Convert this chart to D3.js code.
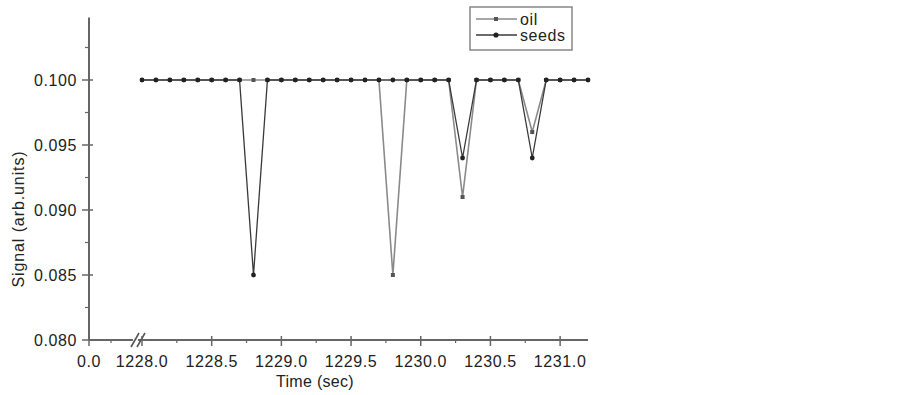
<!DOCTYPE html>
<html>
<head>
<meta charset="utf-8">
<script src="https://cdn.jsdelivr.net/npm/d3@7"></script>
<style>
  body { margin: 0; background: #fff; }
  text { font-family: 'Liberation Sans', Arial, sans-serif; fill: #222; }
</style>
</head>
<body>
<div id="chart"></div>
<script>
const times = [1228.0, 1228.1, 1228.2, 1228.3, 1228.4, 1228.5, 1228.6, 1228.7, 1228.8, 1228.9,
  1229.0, 1229.1, 1229.2, 1229.3, 1229.4, 1229.5, 1229.6, 1229.7, 1229.8, 1229.9,
  1230.0, 1230.1, 1230.2, 1230.3, 1230.4, 1230.5, 1230.6, 1230.7, 1230.8, 1230.9,
  1231.0, 1231.1, 1231.2]
const oil = [0.100, 0.100, 0.100, 0.100, 0.100, 0.100, 0.100, 0.100, 0.100, 0.100,
  0.100, 0.100, 0.100, 0.100, 0.100, 0.100, 0.100, 0.100, 0.085, 0.100,
  0.100, 0.100, 0.100, 0.091, 0.100, 0.100, 0.100, 0.100, 0.096, 0.100,
  0.100, 0.100, 0.100]
const seeds = [0.100, 0.100, 0.100, 0.100, 0.100, 0.100, 0.100, 0.100, 0.085, 0.100,
  0.100, 0.100, 0.100, 0.100, 0.100, 0.100, 0.100, 0.100, 0.100, 0.100,
  0.100, 0.100, 0.100, 0.094, 0.100, 0.100, 0.100, 0.100, 0.094, 0.100,
  0.100, 0.100, 0.100]
const xTicksLeft = [0.0]
const xTicksRight = [1228.0, 1228.5, 1229.0, 1229.5, 1230.0, 1230.5, 1231.0]
const yTicks = [0.080, 0.085, 0.090, 0.095, 0.100]

const fullWidth = 903, fullHeight = 395

const svg = d3.select('#chart')
  .append('svg')
    .attr('width', fullWidth)
    .attr('height', fullHeight)

// broken x axis: a short segment for 0, then the real time range
const xLeft = d3.scaleLinear().domain([0, 0.5]).range([89, 133])
const xScale = d3.scaleLinear().domain([1228.0, 1231.2]).range([142, 588])
const yScale = d3.scaleLinear().domain([0.080, 0.105]).range([340, 15])

const axisColor = '#666'

// y axis
svg.append('line')
  .attr('x1', 89).attr('x2', 89)
  .attr('y1', yScale(0.080)).attr('y2', yScale(0.1048))
  .attr('stroke', axisColor).attr('stroke-width', 2)

const yMinor = d3.range(0.0825, 0.104, 0.005)
svg.selectAll('.yminor').data(yMinor).enter().append('line')
  .attr('x1', 85).attr('x2', 89)
  .attr('y1', d => yScale(d)).attr('y2', d => yScale(d))
  .attr('stroke', axisColor).attr('stroke-width', 1.2)

const yG = svg.selectAll('.ytick').data(yTicks).enter().append('g')
  .attr('transform', d => `translate(0, ${yScale(d)})`)
yG.append('line').attr('x1', 82).attr('x2', 93).attr('stroke', axisColor).attr('stroke-width', 1.5)
yG.append('text')
  .attr('x', 77).attr('dy', '0.35em')
  .attr('text-anchor', 'end')
  .attr('font-size', 16)
  .attr('letter-spacing', 0.6)
  .text(d => d3.format('.3f')(d))

// x axis
svg.append('line')
  .attr('x1', 89).attr('x2', 133)
  .attr('y1', 340).attr('y2', 340)
  .attr('stroke', axisColor).attr('stroke-width', 2)
svg.append('line')
  .attr('x1', 138).attr('x2', 588)
  .attr('y1', 340).attr('y2', 340)
  .attr('stroke', axisColor).attr('stroke-width', 2)

// break marks
svg.selectAll('.brk').data([131, 137]).enter().append('line')
  .attr('x1', d => d).attr('x2', d => d + 8)
  .attr('y1', 347).attr('y2', 333)
  .attr('stroke', '#555').attr('stroke-width', 1.6)

const xMinorRight = d3.range(1228.25, 1231.2, 0.5)
svg.selectAll('.xminor').data(xMinorRight).enter().append('line')
  .attr('x1', d => xScale(d)).attr('x2', d => xScale(d))
  .attr('y1', 340).attr('y2', 343)
  .attr('stroke', axisColor).attr('stroke-width', 1.2)
svg.append('line')
  .attr('x1', xLeft(0.25)).attr('x2', xLeft(0.25))
  .attr('y1', 340).attr('y2', 343)
  .attr('stroke', axisColor).attr('stroke-width', 1.2)

const xTickData = xTicksLeft.map(v => ({ v, x: xLeft(v) }))
  .concat(xTicksRight.map(v => ({ v, x: xScale(v) })))
const xG = svg.selectAll('.xtick').data(xTickData).enter().append('g')
  .attr('transform', d => `translate(${d.x}, 0)`)
xG.append('line').attr('y1', 336).attr('y2', 346).attr('stroke', axisColor).attr('stroke-width', 1.5)
xG.append('text')
  .attr('y', 367)
  .attr('text-anchor', 'middle')
  .attr('font-size', 16)
  .attr('letter-spacing', 0.6)
  .text(d => d3.format('.1f')(d.v))

svg.append('text')
  .attr('x', 315).attr('y', 387)
  .attr('text-anchor', 'middle')
  .attr('font-size', 16)
  .attr('letter-spacing', 0.3)
  .text('Time (sec)')

svg.append('text')
  .attr('transform', 'translate(24, 219) rotate(-90)')
  .attr('text-anchor', 'middle')
  .attr('font-size', 16)
  .attr('letter-spacing', 0.9)
  .text('Signal (arb.units)')

// series
const line = d3.line()
  .x((d, i) => xScale(times[i]))
  .y(d => yScale(d))

svg.append('path')
  .datum(oil)
  .attr('d', line)
  .attr('fill', 'none')
  .attr('stroke', '#8a8a8a')
  .attr('stroke-width', 1.6)

svg.append('path')
  .datum(seeds)
  .attr('d', line)
  .attr('fill', 'none')
  .attr('stroke', '#3a3a3a')
  .attr('stroke-width', 1.3)

svg.selectAll('.oilpt').data(oil).enter().append('rect')
  .attr('x', (d, i) => xScale(times[i]) - 2)
  .attr('y', d => yScale(d) - 2)
  .attr('width', 4).attr('height', 4)
  .attr('fill', '#555')

svg.selectAll('.seedpt').data(seeds).enter().append('circle')
  .attr('cx', (d, i) => xScale(times[i]))
  .attr('cy', d => yScale(d))
  .attr('r', 2.4)
  .attr('fill', '#222')

// legend
svg.append('rect')
  .attr('x', 470).attr('y', 7)
  .attr('width', 102).attr('height', 43)
  .attr('fill', '#fff')
  .attr('stroke', '#888').attr('stroke-width', 1.5)

const legendItems = [
  { name: 'oil', color: '#8a8a8a', marker: 'square' },
  { name: 'seeds', color: '#3a3a3a', marker: 'circle' }
]
const li = svg.selectAll('.leg').data(legendItems).enter().append('g')
  .attr('transform', (d, i) => `translate(0, ${19 + i * 16})`)
li.append('line')
  .attr('x1', 476).attr('x2', 517)
  .attr('stroke', d => d.color).attr('stroke-width', 1.6)
li.filter(d => d.marker === 'square').append('rect')
  .attr('x', 494).attr('y', -2).attr('width', 4).attr('height', 4).attr('fill', '#555')
li.filter(d => d.marker === 'circle').append('circle')
  .attr('cx', 496).attr('r', 2.6).attr('fill', '#222')
li.append('text')
  .attr('x', 520).attr('dy', '0.35em')
  .attr('font-size', 16)
  .attr('letter-spacing', 0.6)
  .text(d => d.name)
</script>
</body>
</html>
